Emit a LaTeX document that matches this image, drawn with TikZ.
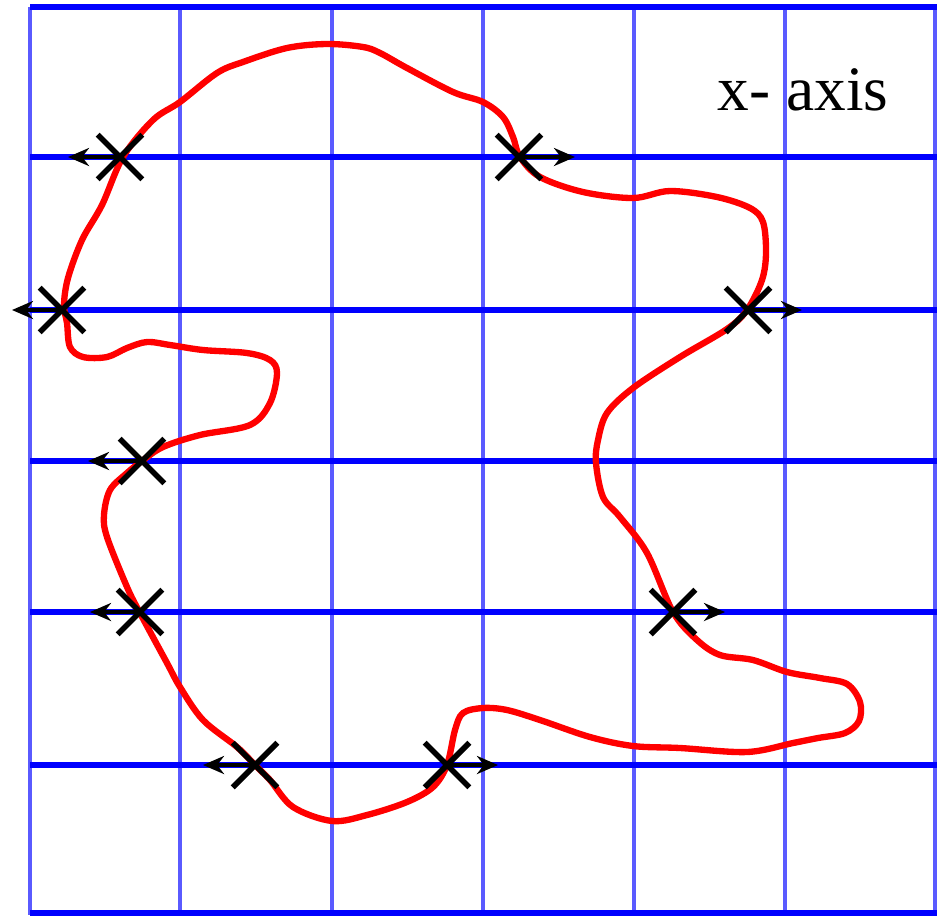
\documentclass[tikz,border=0pt]{standalone}
\usepackage{fontspec}
\setmainfont{Liberation Serif}
\usetikzlibrary{arrows.meta,positioning,shapes.misc}
\definecolor{gridblue}{RGB}{0,0,255}
\definecolor{paleblue}{RGB}{90,90,255}
\definecolor{curvered}{RGB}{255,0,0}
\tikzset{
  rowline/.style={draw=gridblue,line width=1.7pt},
  colline/.style={draw=paleblue,line width=1.1pt},
  contour/.style={draw=curvered,line width=1.8pt},
  crossing/.style={cross out,draw=black,line width=1.6pt,minimum size=0.39cm,inner sep=0pt},
  arr/.style={-{Stealth[length=2.1mm,width=1.8mm]},draw=black,line width=1.4pt}
}

\begin{document}
\begin{tikzpicture}[x=0.01cm,y=-0.01cm]
  \useasboundingbox (0,0) rectangle (937,915);

  % grid
  \foreach \gx in {30,180,332,483,634,785,935}
    \draw[colline] (\gx,7) -- (\gx,915);
  \foreach \gy in {7,157,310,461,612,765,913}
    \draw[rowline] (30,\gy) -- (937,\gy);

  % closed contour
  \draw[contour] plot[smooth cycle,tension=0.55] coordinates {
    (123,157) (153,120) (180,102) (217,73) (243,62) (287,48) (327,44)
    (363,47) (380,53) (407,68) (453,92) (483,102) (503,117) (513,137)
    (520,157) (540,177) (583,192) (633,198) (670,191) (717,197) (750,208)
    (763,222) (766,253) (762,280) (747,310) (727,329) (680,357) (633,388)
    (607,413) (598,440) (596,463) (603,497) (620,517) (647,553) (673,612)
    (697,640) (720,655) (753,660) (787,672) (820,678) (847,684) (860,702)
    (859,721) (845,733) (818,738) (793,743) (747,752) (680,748) (633,746)
    (590,737) (540,720) (507,710) (483,708) (463,713) (455,730) (447,765)
    (433,787) (407,802) (367,815) (332,821) (293,807) (270,780) (255,765)
    (237,747) (203,720) (180,687) (167,663) (140,613) (127,587) (107,537)
    (104,515) (110,490) (127,473) (142,461) (163,447) (200,435) (250,425)
    (270,403) (277,373) (270,360) (247,353) (203,350) (170,345) (147,342)
    (127,348) (107,357) (83,357) (70,347) (67,323) (64,305) (68,278)
    (82,240) (102,205)};

  % crossings of the contour with the rows
  \node[crossing] (c1) at (120,157) {};
  \node[crossing] (c2) at (519,157) {};
  \node[crossing] (c3) at (62,310) {};
  \node[crossing] (c4) at (748,310) {};
  \node[crossing] (c5) at (142,461) {};
  \node[crossing] (c6) at (140,612) {};
  \node[crossing] (c7) at (673,612) {};
  \node[crossing] (c8) at (255,765) {};
  \node[crossing] (c9) at (447,765) {};

  \coordinate (e1) at (68,157);
  \coordinate (e2) at (575,157);
  \coordinate (e3) at (12,310);
  \coordinate (e4) at (802,310);
  \coordinate (e5) at (88,461);
  \coordinate (e6) at (90,612);
  \coordinate (e7) at (725,612);
  \coordinate (e8) at (203,765);
  \coordinate (e9) at (498,765);

  \draw[arr] (c1.center) -- (e1);
  \draw[arr] (c2.center) -- (e2);
  \draw[arr] (c3.center) -- (e3);
  \draw[arr] (c4.center) -- (e4);
  \draw[arr] (c5.center) -- (e5);
  \draw[arr] (c6.center) -- (e6);
  \draw[arr] (c7.center) -- (e7);
  \draw[arr] (c8.center) -- (e8);
  \draw[arr] (c9.center) -- (e9);

  \node[anchor=base west,inner sep=0pt,font=\fontsize{18}{22}\selectfont] (axislabel) at (717,110) {x- axis};
\end{tikzpicture}
\end{document}
